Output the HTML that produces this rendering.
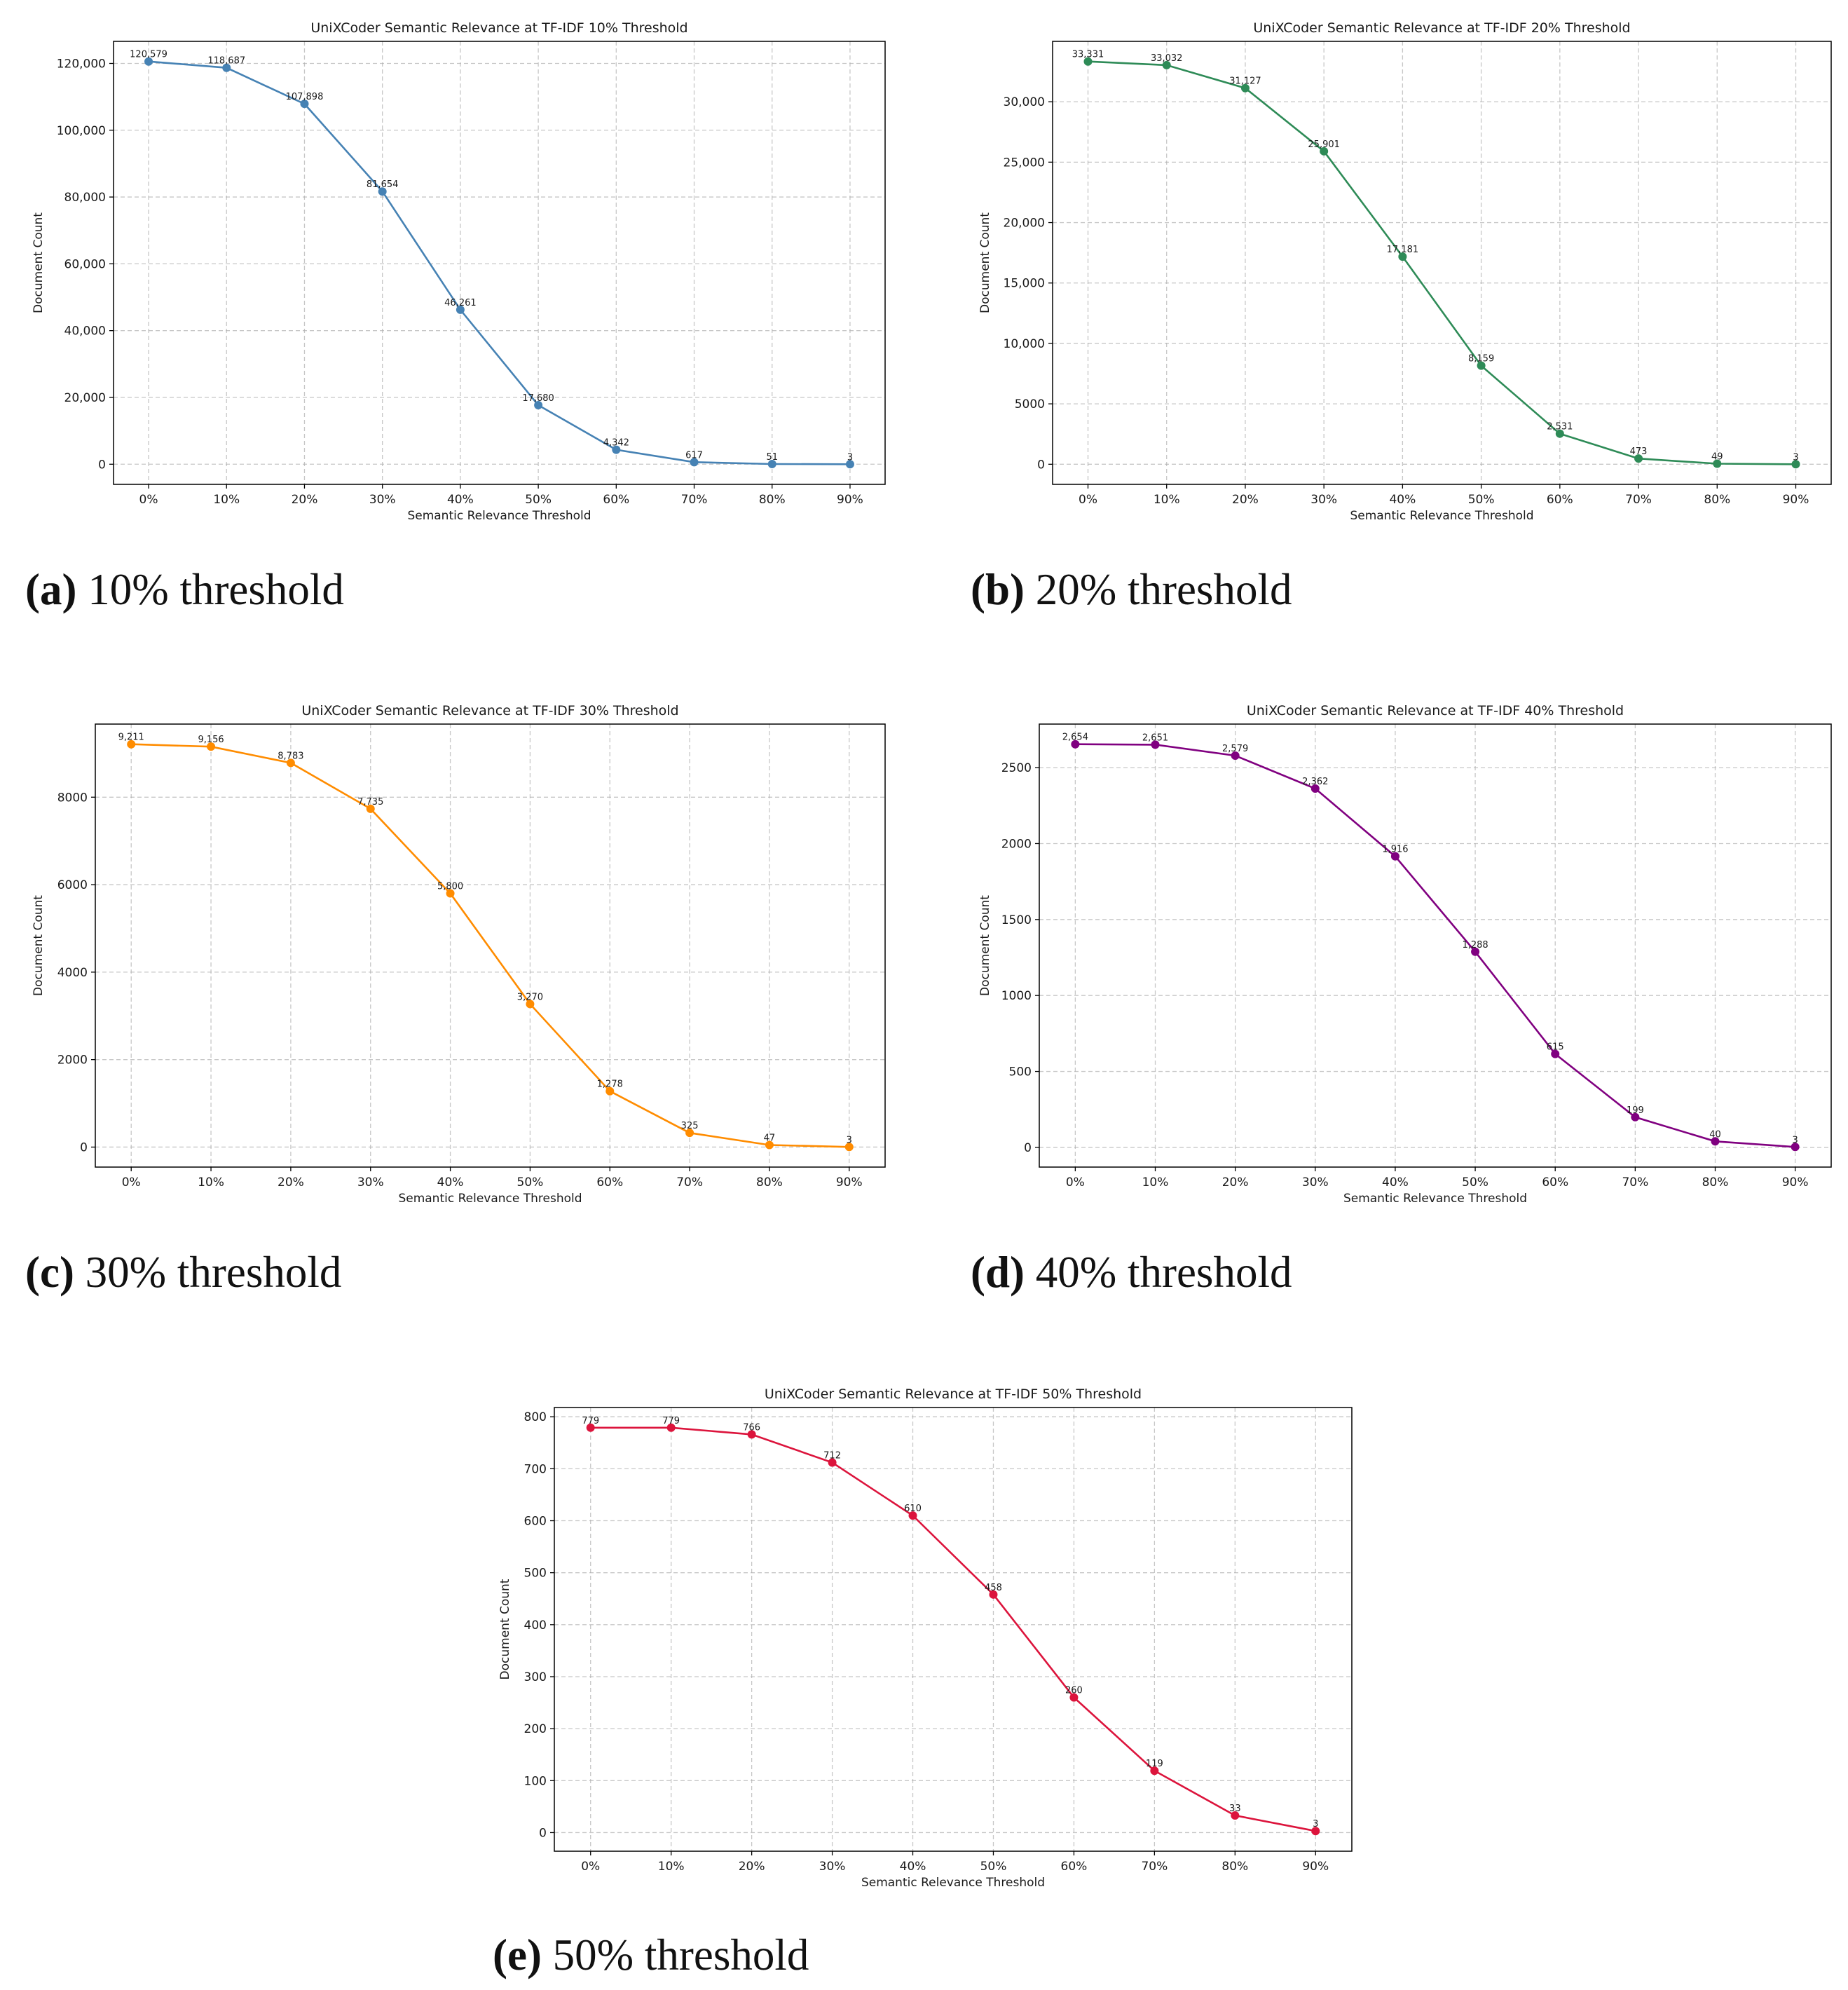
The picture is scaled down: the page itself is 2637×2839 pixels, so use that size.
<!DOCTYPE html>
<html><head><meta charset="utf-8">
<style>
html,body{margin:0;padding:0;background:#fff;}
svg{display:block;}
text{font-family:"DejaVu Sans","Liberation Sans",sans-serif;fill:#1a1a1a;}
.cap{font-family:"Liberation Serif",serif;fill:#111;}
</style></head>
<body>
<svg id="fig" xmlns="http://www.w3.org/2000/svg" width="2637" height="2839" viewBox="0 0 2637 2839"></svg>
<script>
const categories = ["0%","10%","20%","30%","40%","50%","60%","70%","80%","90%"];
const seriesA = [120579,118687,107898,81654,46261,17680,4342,617,51,3];
const seriesB = [33331,33032,31127,25901,17181,8159,2531,473,49,3];
const seriesC = [9211,9156,8783,7735,5800,3270,1278,325,47,3];
const seriesD = [2654,2651,2579,2362,1916,1288,615,199,40,3];
const seriesE = [779,779,766,712,610,458,260,119,33,3];
const ticksA = [0,20000,40000,60000,80000,100000,120000];
const ticksB = [0,5000,10000,15000,20000,25000,30000];
const ticksC = [0,2000,4000,6000,8000];
const ticksD = [0,500,1000,1500,2000,2500];
const ticksE = [0,100,200,300,400,500,600,700,800];
const titles = ["10%","20%","30%","40%","50%"];

const NS = "http://www.w3.org/2000/svg";
const svg = document.getElementById('fig');
function el(tag, attrs, parent, txt){
  const e = document.createElementNS(NS, tag);
  for (const k in attrs) e.setAttribute(k, attrs[k]);
  if (txt !== undefined) e.textContent = txt;
  (parent||svg).appendChild(e);
  return e;
}
function fmt(v){ return v.toLocaleString('en-US'); }
function tickFmt(v, comma){ return (comma && v >= 10000) ? fmt(v) : String(v); }

const layouts = [
  {L:162,R:1263,T:59,B:691,ylab:60,cx:36,cy:862,letter:"a",color:"#4682b4",data:seriesA,ticks:ticksA,comma:true},
  {L:1502,R:2613,T:59,B:691,ylab:1411,cx:1385,cy:862,letter:"b",color:"#2e8b57",data:seriesB,ticks:ticksB,comma:true},
  {L:136,R:1263,T:1033,B:1665,ylab:60,cx:36,cy:1836,letter:"c",color:"#ff8c00",data:seriesC,ticks:ticksC,comma:false},
  {L:1483,R:2613,T:1033,B:1665,ylab:1411,cx:1385,cy:1836,letter:"d",color:"#800080",data:seriesD,ticks:ticksD,comma:false},
  {L:791,R:1929,T:2008,B:2641,ylab:726,cx:703,cy:2810,letter:"e",color:"#dc143c",data:seriesE,ticks:ticksE,comma:false}
];

layouts.forEach((c, idx) => {
  const g = el('g', {});
  
  
  const data = c.data;
  const mn = Math.min(...data), mx = Math.max(...data);
  const pad = 0.05 * (mx - mn);
  const y0 = mn - pad, y1 = mx + pad;
  const n = categories.length;
  const xs = i => c.L + (i + 0.45) / (n - 1 + 0.9) * (c.R - c.L);
  const ys = v => c.B - (v - y0) / (y1 - y0) * (c.B - c.T);

  c.ticks.forEach(t => {
    const y = ys(t);
    const gl = el('line', {x1:c.L, x2:c.R, y1:y, y2:y, stroke:'#b0b0b0', 'stroke-width':1.3, 'stroke-dasharray':'6,4', opacity:0.7}, g);
    
    
    el('line', {x1:c.L-6, x2:c.L, y1:y, y2:y, stroke:'#000', 'stroke-width':1.3}, g);
    const tl = el('text', {x:c.L-11, y:y+6, 'text-anchor':'end', 'font-size':17}, g, tickFmt(t, c.comma));
    
    
  });
  categories.forEach((cat, i) => {
    const x = xs(i);
    const gl = el('line', {x1:x, x2:x, y1:c.T, y2:c.B, stroke:'#b0b0b0', 'stroke-width':1.3, 'stroke-dasharray':'6,4', opacity:0.7}, g);
    
    
    el('line', {x1:x, x2:x, y1:c.B, y2:c.B+6, stroke:'#000', 'stroke-width':1.3}, g);
    const tl = el('text', {x:x, y:c.B+27, 'text-anchor':'middle', 'font-size':17}, g, cat);
    
    
  });

  const pts = data.map((v, i) => xs(i).toFixed(1) + ',' + ys(v).toFixed(1)).join(' ');
  const pl = el('polyline', {points:pts, fill:'none', stroke:c.color, 'stroke-width':2.6}, g);
  
  
  data.forEach((v, i) => {
    const p = el('circle', {cx:xs(i), cy:ys(v), r:6, fill:c.color}, g);
    
    
    const lb = el('text', {x:xs(i), y:ys(v)-6, 'text-anchor':'middle', 'font-size':13}, g, fmt(v));
    
    
  });

  const fr = el('rect', {x:c.L, y:c.T, width:c.R-c.L, height:c.B-c.T, fill:'none', stroke:'#000', 'stroke-width':1.5}, g);
  
  

  const tt = el('text', {x:(c.L+c.R)/2, y:c.T-13, 'text-anchor':'middle', 'font-size':19}, g, 'UniXCoder Semantic Relevance at TF-IDF ' + titles[idx] + ' Threshold');
  
  
  const xl = el('text', {x:(c.L+c.R)/2, y:c.B+50, 'text-anchor':'middle', 'font-size':17}, g, 'Semantic Relevance Threshold');
  
  
  const ymid = (c.T+c.B)/2;
  const yl = el('text', {x:c.ylab, y:ymid, 'text-anchor':'middle', 'font-size':17, transform:'rotate(-90 '+c.ylab+' '+ymid+')'}, g, 'Document Count');
  
  

  const cap = el('text', {x:c.cx, y:c.cy, 'font-size':63, class:'cap'}, g);
  
  
  el('tspan', {'font-weight':'bold'}, cap, '(' + c.letter + ')');
  el('tspan', {}, cap, ' ' + titles[idx] + ' threshold');
});
</script>
</body></html>
